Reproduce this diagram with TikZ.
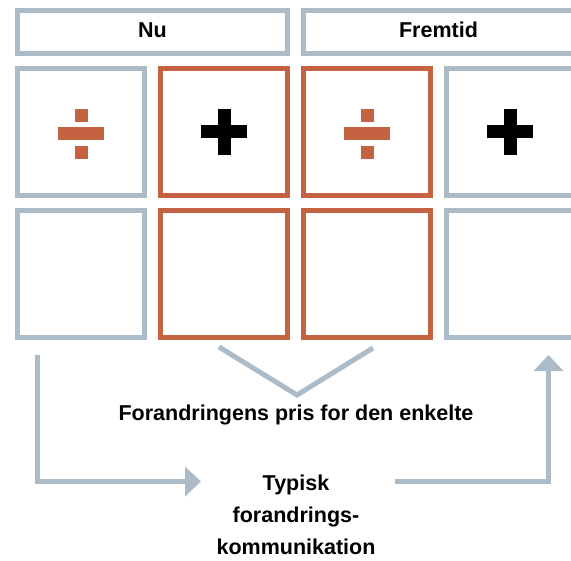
\documentclass[tikz,border=0pt]{standalone}
\usepackage{fontspec}
\setmainfont{Liberation Sans}
\usetikzlibrary{arrows.meta}
\definecolor{cgray}{RGB}{171,187,200}
\definecolor{corange}{RGB}{197,98,66}
\tikzset{
  divsym/.pic={
    \fill[corange] (-6.5,-25) rectangle (6.5,-12);
    \fill[corange] (-23,-6.5) rectangle (23,6.5);
    \fill[corange] (-6.5,12) rectangle (6.5,25);
  },
  plussym/.pic={
    \fill[black] (-23,-6.5) rectangle (23,6.5);
    \fill[black] (-6.5,-23) rectangle (6.5,23);
  }
}
\begin{document}
\begin{tikzpicture}[x=1pt,y=-1pt,
  cell/.style={draw=#1,line width=5pt,minimum width=127pt,minimum height=127pt,inner sep=0pt},
  head/.style={draw=cgray,line width=5pt,minimum width=270pt,minimum height=43pt,inner sep=0pt,
    font=\fontsize{21.5pt}{26pt}\selectfont\bfseries,text height=15.4pt,text depth=4.8pt},
  conn/.style={draw=cgray,line width=5pt},
  arr/.style={conn,-{Triangle[length=16pt,width=29pt]}},
  lbl/.style={font=\fontsize{21.5pt}{32pt}\selectfont\bfseries,inner sep=0pt,align=center}
]
\useasboundingbox (0,0) rectangle (571,561);
\node[head] (nu) at (152.5,32) {Nu};
\node[head] (fremtid) at (438.5,32) {Fremtid};
\node[cell=cgray] (a1) at (81,132) {};
\node[cell=corange] (b1) at (224,132) {};
\node[cell=corange] (c1) at (367,132) {};
\node[cell=cgray] (d1) at (510,132) {};
\node[cell=cgray] (a2) at (81,274) {};
\node[cell=corange] (b2) at (224,274) {};
\node[cell=corange] (c2) at (367,274) {};
\node[cell=cgray] (d2) at (510,274) {};
\pic at ([yshift=-2pt]a1.center) {divsym};
\pic at (b1.center) {plussym};
\pic at ([yshift=-2pt]c1.center) {divsym};
\pic at (d1.center) {plussym};
\coordinate (v1) at (219,347);
\coordinate (v2) at (297,395);
\coordinate (v3) at (373,348);
\draw[conn] (v1) -- (v2) -- (v3);
\node[lbl,anchor=base] (pris) at (296,421) {Forandringens pris for den enkelte};
\node[lbl,anchor=north] (typisk) at (296,474.6) {Typisk\\forandrings-\\kommunikation};
\coordinate (l0) at (37.5,355);
\coordinate (l1) at (201,481.5);
\draw[arr] (l0) |- (l1);
\coordinate (r0) at (395,481.5);
\coordinate (r1) at (548.5,355);
\draw[arr] (r0) -| (r1);
\end{tikzpicture}
\end{document}
